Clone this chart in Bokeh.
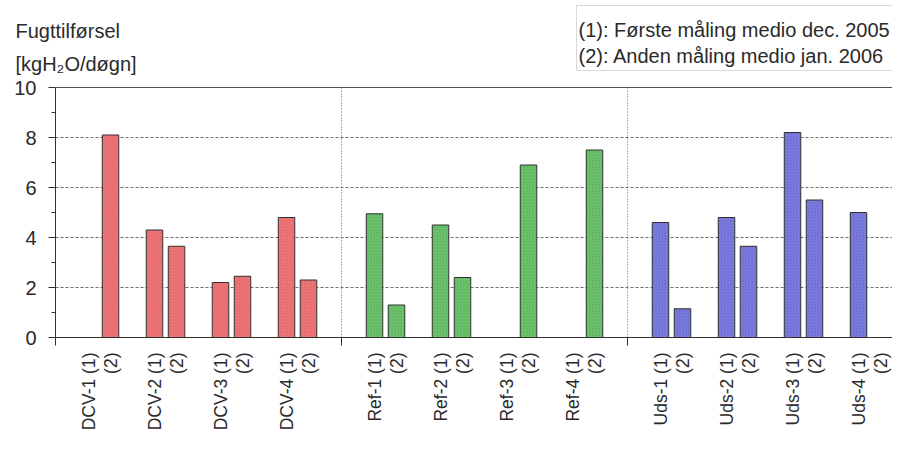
from bokeh.plotting import figure
from bokeh.models import (Range1d, FixedTicker, Label, LinearAxis, BoxAnnotation)
from bokeh.embed import file_html
from bokeh.resources import INLINE
import math

# ---- data ----
units = ["DCV-1", "DCV-2", "DCV-3", "DCV-4",
         "Ref-1", "Ref-2", "Ref-3", "Ref-4",
         "Uds-1", "Uds-2", "Uds-3", "Uds-4"]
groups = ["DCV", "Ref", "Uds"]
maling1 = [None, 4.3, 2.2, 4.8, 4.95, 4.5, None, None, 4.6, 4.8, 8.2, 5.0]
maling2 = [8.1, 3.65, 2.45, 2.3, 1.3, 2.4, 6.9, 7.5, 1.15, 3.65, 5.5, None]
y_ticks = [0, 2, 4, 6, 8, 10]
y_minor = [1, 3, 5, 7, 9]
title_lines = ["Fugttilførsel", "[kgH₂O/døgn]"]
legend_lines = ["(1): Første måling medio dec. 2005",
                "(2): Anden måling medio jan. 2006"]
group_fill = {"DCV": "#F07878", "Ref": "#6EC66E", "Uds": "#7E7EE2"}
group_hatch = {"DCV": "#B03A3A", "Ref": "#2E7A2E", "Uds": "#36369E"}

FONT = "Liberation Sans"
TXT = "#2a2a2a"
AX = "#303030"

# ---- pixel layout (canvas px) ----
W, H = 892, 434
X0_PX, SLOT_PX = 55, 22          # data x=0 at 55 px, 22 px per category slot
Y0_PX, UNIT_PX = 337, 25         # data y=0 at 337 px, 25 px per unit
SLOTS_PER_GROUP = 13
XMAX = len(groups) * SLOTS_PER_GROUP

def dx(px):
    return (px - X0_PX) / SLOT_PX

def dy(py):
    return (Y0_PX - py) / UNIT_PX

def slot_pos(i, m):
    g, k = divmod(i, 4)
    return SLOTS_PER_GROUP * g + 3 * k + 1.5 + (m - 1)

p = figure(width=W, height=H, output_backend="svg", toolbar_location=None,
           x_range=Range1d(dx(0), dx(W)), y_range=Range1d(dy(H), dy(0)),
           min_border_left=0, min_border_top=0, min_border_right=0,
           min_border_bottom=0, background_fill_color="white",
           border_fill_color="white", outline_line_color=None)

# bars
for m, series in ((1, maling1), (2, maling2)):
    for gi, g in enumerate(groups):
        xs, tops = [], []
        for i in range(gi * 4, gi * 4 + 4):
            v = series[i]
            if v is None:
                continue
            xs.append(slot_pos(i, m))
            tops.append(v)
        p.vbar(x=xs, top=tops, bottom=0, width=0.75, fill_color=group_fill[g],
               line_color=AX, line_width=1,
               hatch_pattern="diagonal_cross", hatch_color=group_hatch[g],
               hatch_alpha=0.35, hatch_scale=3, hatch_weight=0.6)

# grids (horizontal dashed, vertical dotted group separators)
yg = p.ygrid[0]
yg.ticker = FixedTicker(ticks=y_ticks[1:-1])
yg.grid_line_color = "#707070"
yg.grid_line_dash = "3 2"
xg = p.xgrid[0]
xg.ticker = FixedTicker(ticks=[SLOTS_PER_GROUP * g for g in range(1, len(groups))])
xg.grid_line_color = "#606060"
xg.grid_line_dash = "1 2"
if "cross_bounds" in yg.properties():
    yg.cross_bounds = (0, XMAX)
    xg.cross_bounds = (0, 10)

# y axis fixed at x=0 inside the frame
ya = p.left[0]
ya.fixed_location = 0
ya.bounds = (0, 10)
ya.ticker = FixedTicker(ticks=y_ticks, minor_ticks=y_minor)
ya.axis_line_color = AX
ya.major_tick_line_color = AX
ya.minor_tick_line_color = AX
ya.major_tick_out = 7
ya.major_tick_in = 0
ya.minor_tick_out = 4
ya.minor_tick_in = 0
ya.major_label_standoff = 12
ya.major_label_text_font = FONT
ya.major_label_text_font_size = "20px"
ya.major_label_text_color = TXT

# x axis fixed at y=0
tick_pos, tick_lab = [], {}
for i, u in enumerate(units):
    a = slot_pos(i, 1)
    b = slot_pos(i, 2)
    tick_pos += [a, b]
    tick_lab[a] = f"{u} (1)"
    tick_lab[b] = "(2)"
xa = p.below[0]
xa.fixed_location = 0
xa.bounds = (0, XMAX)
xa.ticker = FixedTicker(ticks=tick_pos,
                        minor_ticks=[SLOTS_PER_GROUP * g for g in range(len(groups) + 1)])
xa.major_label_overrides = tick_lab
xa.major_label_orientation = math.pi / 2
xa.major_tick_line_color = None
xa.major_tick_out = 0
xa.major_tick_in = 0
xa.minor_tick_line_color = AX
xa.minor_tick_out = 8
xa.minor_tick_in = 0
xa.axis_line_color = AX
xa.major_label_standoff = 7
xa.major_label_text_font = FONT
xa.major_label_text_font_size = "17.5px"
xa.major_label_text_color = TXT

# top border line at y=10
top_ax = LinearAxis(fixed_location=10, bounds=(0, XMAX), ticker=FixedTicker(ticks=[]),
                    axis_line_color="#505050", major_tick_line_color=None,
                    minor_tick_line_color=None, major_label_text_font_size="0px")
p.add_layout(top_ax, "above")

# title lines
p.add_layout(Label(x=dx(15), y=dy(30), text=title_lines[0],
                   text_font=FONT, text_font_size="20px", text_color=TXT,
                   text_baseline="alphabetic"))
p.add_layout(Label(x=dx(15), y=dy(63), text=title_lines[1],
                   text_font=FONT, text_font_size="20px", text_color=TXT,
                   text_baseline="alphabetic"))

# legend box with two text lines
p.add_layout(BoxAnnotation(left=dx(576), right=dx(W + 20), top=dy(5), bottom=dy(70),
                           fill_color="white", fill_alpha=1.0,
                           line_color="#808080", line_width=1))
p.add_layout(Label(x=dx(578), y=dy(29), text=legend_lines[0],
                   text_font=FONT, text_font_size="20px", text_color=TXT,
                   text_baseline="alphabetic"))
p.add_layout(Label(x=dx(578), y=dy(55), text=legend_lines[1],
                   text_font=FONT, text_font_size="20px", text_color=TXT,
                   text_baseline="alphabetic"))

open("out.html", "w").write(file_html(p, INLINE))
